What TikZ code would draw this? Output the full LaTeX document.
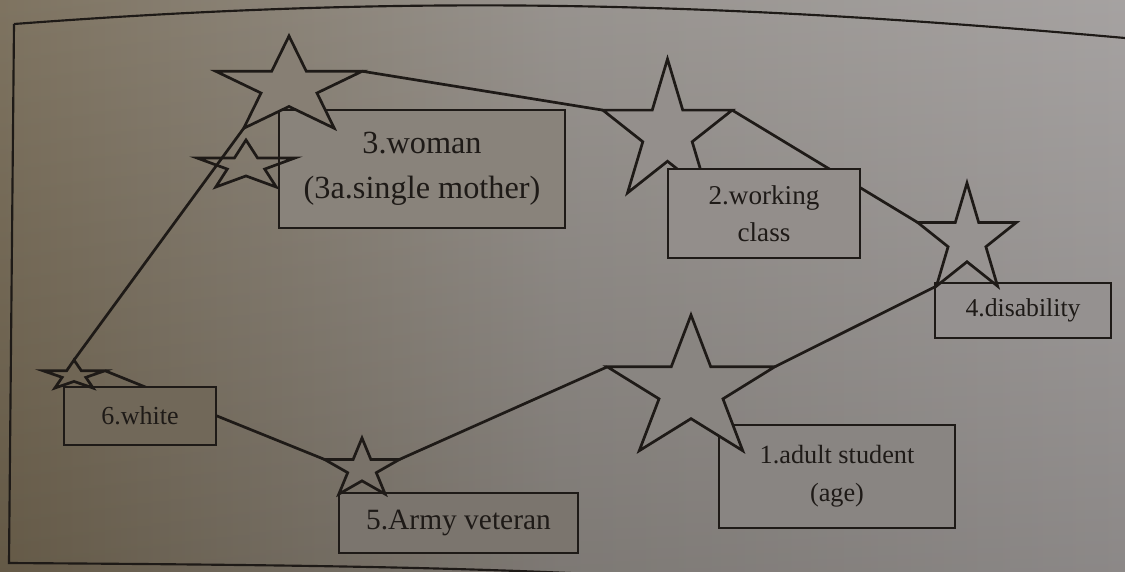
\documentclass[tikz,border=0pt]{standalone}
\usepackage{fontspec}
\setmainfont{Liberation Serif}
\definecolor{ink}{RGB}{30,26,23}
\definecolor{bgL}{RGB}{112,100,79}
\definecolor{bgM}{RGB}{140,135,130}
\definecolor{bgR}{RGB}{156,152,151}
% background colour at a pixel position (x,y): horizontal 3-stop ramp plus a light-to-dark vertical overlay
\newcommand{\bgch}[4]{\pgfmathtruncatemacro{#1}{0.9*(ifthenelse(\bgx<562.5,#2+(#3-#2)*(\bgx/562.5),#3+(#4-#3)*((\bgx-562.5)/562.5)))+25.5*(1-\bgy/571)}}
\newcommand{\bgat}[3]{\def\bgx{#2}\def\bgy{#3}\bgch\bgr{112}{140}{156}\bgch\bgg{100}{135}{152}\bgch\bgb{79}{130}{151}\edef\bgtmp{\noexpand\definecolor{#1}{RGB}{\bgr,\bgg,\bgb}}\bgtmp}
\bgat{cS2}{667}{133}
\bgat{cS3}{289}{87}
\bgat{cS1}{691}{390}
\bgat{cS4}{967}{240}
\bgat{cS5}{362}{469}
\bgat{cS6}{74}{375}
\bgat{cB3}{422}{169}
\bgat{cB2}{764}{213}
\bgat{cB4}{1023}{310}
\bgat{cB1}{837}{476}
\bgat{cB5}{458}{523}
\bgat{cB6}{140}{416}
% five-pointed star: name, centre x, centre y, x radius, y radius, path style
\newcommand{\mkstar}[6]{%
  \begin{scope}[shift={(#2,#3)}]
    \path[#6] (-90:#4 and #5)
      \foreach \j [evaluate=\j as \ff using 0.691+0.309*cos(180*\j), evaluate=\j as \aa using -90+36*\j] in {1,...,9} { -- (\aa:\ff*#4 and \ff*#5) } -- cycle;
    \coordinate (#1) at (0,0);
    \coordinate (#1-top) at (-90:#4 and #5);
    \coordinate (#1-right) at (-18:#4 and #5);
    \coordinate (#1-bright) at (54:#4 and #5);
    \coordinate (#1-bleft) at (126:#4 and #5);
    \coordinate (#1-left) at (198:#4 and #5);
  \end{scope}}
\tikzset{
  conn/.style={draw=ink, line width=0.95pt},
  frameline/.style={draw=ink, line width=0.75pt},
  starline/.style={draw=ink, line width=0.95pt, line join=miter},
  box/.style={draw=ink, line width=0.9pt, rectangle, inner sep=0pt, align=center, text=ink},
}
\begin{document}
\begin{tikzpicture}[x=0.35pt, y=-0.35pt]
\useasboundingbox (0,0) rectangle (1125,571);
\clip (0,0) rectangle (1125,571);
\shade[left color=bgL, right color=bgR, middle color=bgM] (0,0) rectangle (1125,571);
\shade[top color=white, bottom color=black, opacity=0.1] (0,0) rectangle (1125,571);
% page frame
\draw[frameline] (14,24) .. controls (400,-5) and (700,0) .. (1125,38);
\draw[frameline] (14,24) -- (9,563) .. controls (300,565) and (500,567) .. (700,580);
% star anchor points
\mkstar{S3}{289}{87}{77}{51}{}
\mkstar{S2}{667.5}{133}{68}{74}{}
\mkstar{S4}{967}{240}{52}{57}{}
\mkstar{S1}{691}{390}{88}{75}{}
\mkstar{S5}{362}{469}{39.4}{31}{}
\mkstar{S6}{74}{375.5}{32.6}{15.5}{}
% connectors
\draw[conn] (S6-top) -- (S3-bleft);
\draw[conn] (S3-right) -- (S2-left);
\draw[conn] (S2-right) -- (S4-left);
\draw[conn] (S4-bleft) -- (S1-right);
\draw[conn] (S1-left) -- (S5-right);
\draw[conn] (S5-left) -- (S6-right);
% star under its box
\mkstar{S2}{667.5}{133}{68}{74}{starline, fill=cS2}
% boxes
\node[box, fill=cB3, minimum width=100.1pt, minimum height=41.3pt, font=\fontsize{11.3}{15.75}\selectfont] (b3) at (422,169) {3.woman\\(3a.single mother)};
\node[box, fill=cB2, minimum width=67.2pt, minimum height=31.15pt, font=\fontsize{9.5}{13}\selectfont] (b2) at (764,213.5) {2.working\\class};
\node[box, fill=cB4, minimum width=61.6pt, minimum height=19.25pt, font=\fontsize{9}{11}\selectfont] (b4) at (1023,310.5) {4.disability};
\node[box, fill=cB1, minimum width=82.6pt, minimum height=36.05pt, font=\fontsize{9.2}{13.3}\selectfont] (b1) at (837,476.5) {1.adult student\\(age)};
\node[box, fill=cB5, minimum width=83.65pt, minimum height=21pt, font=\fontsize{10.3}{12.5}\selectfont] (b5) at (458.5,523) {5.Army veteran};
\node[box, fill=cB6, minimum width=53.2pt, minimum height=20.3pt, font=\fontsize{9.1}{11}\selectfont] (b6) at (140,416) {6.white};
% stars over boxes
\mkstar{S3}{289}{87}{77}{51}{starline, fill=cS3}
\mkstar{S1}{691}{390}{88}{75}{starline, fill=cS1}
\mkstar{S4}{967}{240}{52}{57}{starline, fill=cS4}
\mkstar{S5}{362}{469}{39.4}{31}{starline, fill=cS5}
\mkstar{S6}{74}{375.5}{32.6}{15.5}{starline, fill=cS6}
\mkstar{S3a}{246}{166}{51.5}{26}{starline}
\end{tikzpicture}
\end{document}
